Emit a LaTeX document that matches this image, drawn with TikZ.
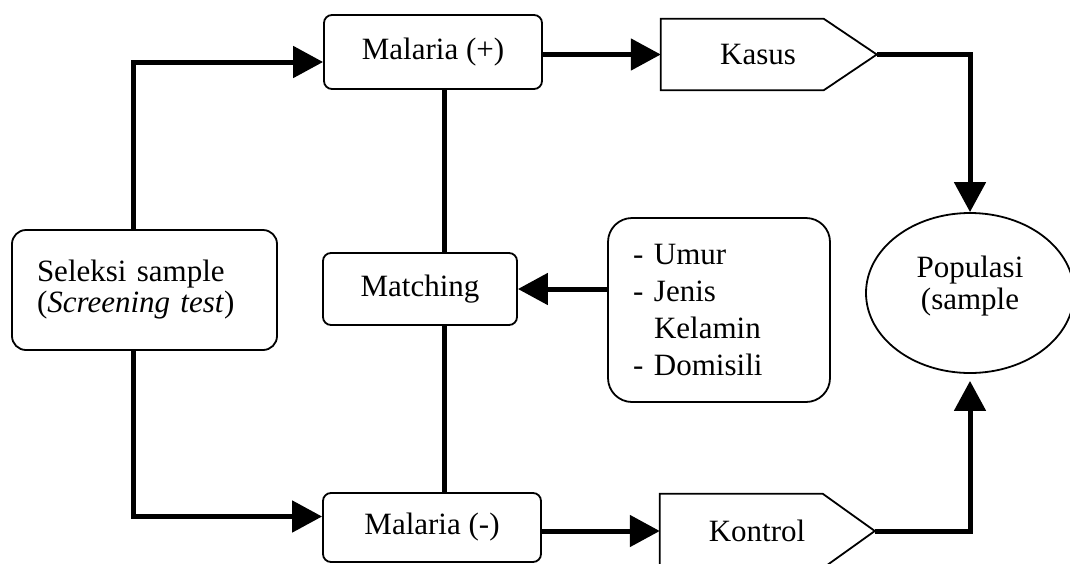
\documentclass[tikz,border=0pt]{standalone}
\usepackage{fontspec}
\setmainfont{Liberation Serif}
\usetikzlibrary{arrows.meta,shapes.geometric,calc}
\begin{document}
\begin{tikzpicture}[x=1pt,y=-1pt,
  box/.style={draw, line width=1.8pt, rounded corners=8pt, inner sep=0pt,
    font=\fontsize{31pt}{36.7pt}\selectfont},
  txt/.style={inner sep=0pt, font=\fontsize{31pt}{36.7pt}\selectfont},
  outline/.style={line width=1.8pt, line join=miter},
  conn/.style={line width=5pt, -{Triangle[length=30pt,width=31pt]}},
  link/.style={line width=5pt}]

\useasboundingbox (0,0) rectangle (1070,563);
\clip (0,0) rectangle (1070,563);

% boxes
\node[box, rounded corners=14pt, minimum width=265pt, minimum height=120pt,
      text width=215pt, align=left, font=\fontsize{31pt}{31pt}\selectfont]
      (sel) at (144.5,290) {Seleksi sample\\(\textit{Screening test})};
\node[box, minimum width=218pt, minimum height=74pt] (malplus) at (433,52) {Malaria (+)};
\node[box, minimum width=194pt, minimum height=72pt] (match) at (420,289) {Matching};
\node[box, minimum width=218pt, minimum height=69pt] (malmin) at (432,527.5) {Malaria (-)};
\node[box, rounded corners=24pt, minimum width=222pt, minimum height=184pt,
      text width=172pt, align=left] (faktor) at (719,310)
      {\makebox[21pt][l]{-}Umur\\\makebox[21pt][l]{-}Jenis\\\hspace*{21pt}Kelamin\\\makebox[21pt][l]{-}Domisili};

% population ellipse and its label, set a little above centre
\node[ellipse, draw, line width=1.8pt, minimum width=208pt, minimum height=160pt,
      inner sep=0pt] (pop) at (970,293) {};
\node[txt, align=center, font=\fontsize{31pt}{32.5pt}\selectfont]
      (poptext) at ([yshift=7pt]pop.center) {Populasi\\(sample};

% pentagon-shaped outcome boxes
\node[txt, minimum width=194pt, minimum height=71pt] (kasus) at (758,54.5) {Kasus};
\draw[outline] (kasus.north west) -- ++(163,0) -- ($(kasus.west)+(216,0)$) coordinate (kasustip)
  -- ($(kasus.south west)+(163,0)$) -- (kasus.south west) -- cycle;
\node[txt, minimum width=194pt, minimum height=74pt] (kontrol) at (757,531) {Kontrol};
\draw[outline] (kontrol.north west) -- ++(163,0) -- ($(kontrol.west)+(215,0)$) coordinate (kontroltip)
  -- ($(kontrol.south west)+(163,0)$) -- (kontrol.south west) -- cycle;

% connectors
\coordinate (selx) at (133,0);
\coordinate (midx) at (444,0);
\draw[conn] (sel.north -| selx) |- ([yshift=-10pt]malplus.west);
\draw[conn] (sel.south -| selx) |- ([yshift=11pt]malmin.west);
\draw[link] (malplus.south -| midx) -- (match.north -| midx);
\draw[link] (match.south -| midx) -- (malmin.north -| midx);
\draw[conn] (malplus.east |- kasus.west) -- (kasus.west);
\draw[conn] (malmin.east |- kontrol.west) -- (kontrol.west);
\draw[conn] (faktor.west |- match.east) -- (match.east);
\draw[conn] (kasustip) -| (pop.north);
\draw[conn, shorten >=7pt] (kontroltip) -| (pop.south);
\end{tikzpicture}
\end{document}
